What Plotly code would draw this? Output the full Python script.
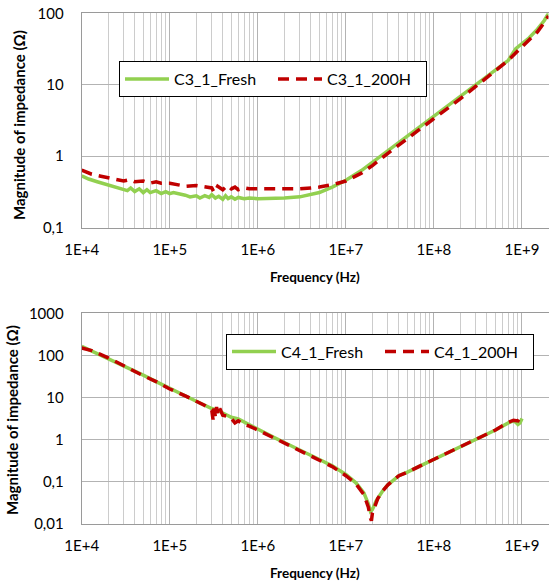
import plotly.graph_objects as go

# ---------------- data ----------------
f_c3_fresh = [1e4, 1.2e4, 1.5e4, 2e4, 2.5e4, 3e4, 3.3e4, 3.6e4, 4e4, 4.5e4, 5e4, 5.5e4, 6e4, 7e4, 8e4, 9e4,
              1e5, 1.1e5, 1.3e5, 1.5e5, 1.7e5, 2e5, 2.2e5, 2.5e5, 2.8e5, 3e5, 3.3e5, 3.6e5, 4e5, 4.3e5, 4.6e5,
              5e5, 5.5e5, 6e5, 7e5, 8e5, 1e6, 1.5e6, 2e6, 3e6, 4e6, 5e6, 7e6, 1e7, 1.5e7, 2e7, 3e7, 5e7, 7e7,
              1e8, 1.5e8, 2e8, 3e8, 5e8, 7e8, 8.5e8, 1e9, 1.2e9, 1.5e9, 1.8e9, 2e9]
z_c3_fresh = [0.53, 0.48, 0.44, 0.40, 0.37, 0.35, 0.33, 0.36, 0.32, 0.35, 0.31, 0.34, 0.31, 0.33, 0.30, 0.32,
              0.30, 0.31, 0.30, 0.285, 0.27, 0.28, 0.26, 0.28, 0.265, 0.29, 0.26, 0.275, 0.25, 0.28, 0.255,
              0.27, 0.25, 0.265, 0.255, 0.26, 0.255, 0.255, 0.26, 0.27, 0.29, 0.31, 0.37, 0.46, 0.63, 0.82, 1.2, 1.9, 2.6,
              3.6, 5.2, 6.8, 10, 16, 22, 32, 38, 45, 60, 80, 100]

f_c3_200h = [1e4, 1.3e4, 1.6e4, 2e4, 2.5e4, 3e4, 3.5e4, 4e4, 5e4, 6e4, 7e4, 8e4, 1e5, 1.2e5, 1.5e5, 2e5, 2.5e5,
             3e5, 3.2e5, 3.5e5, 4e5, 4.5e5, 5e5, 5.5e5, 6e5, 7e5, 8e5, 1e6, 1.5e6, 2e6, 3e6, 4e6, 5e6, 7e6,
             1e7, 1.5e7, 2e7, 3e7, 5e7, 7e7, 1e8, 1.5e8, 2e8, 3e8, 5e8, 7e8, 1e9, 1.2e9, 1.5e9, 1.8e9, 2e9]
z_c3_200h = [0.64, 0.56, 0.53, 0.50, 0.47, 0.45, 0.47, 0.44, 0.45, 0.42, 0.44, 0.42, 0.42, 0.40, 0.38, 0.39, 0.37,
             0.36, 0.31, 0.38, 0.34, 0.39, 0.35, 0.37, 0.34, 0.36, 0.35, 0.35, 0.35, 0.35, 0.35, 0.36, 0.37, 0.40,
             0.45, 0.58, 0.74, 1.1, 1.75, 2.4, 3.3, 4.9, 6.4, 9.6, 15.5, 22, 34, 42, 55, 75, 92]

f_c4_fresh = [1e4, 2e4, 3e4, 5e4, 7e4, 1e5, 1.5e5, 2e5, 3e5, 3.5e5, 4e5, 5e5, 6e5, 7e5, 1e6, 1.5e6, 2e6, 3e6,
              5e6, 7e6, 1e7, 1.3e7, 1.6e7, 1.8e7, 1.9e7, 2e7, 2.2e7, 2.6e7, 3e7, 4e7, 5e7, 7e7, 1e8, 1.5e8,
              2e8, 3e8, 5e8, 7e8, 8e8, 8.5e8, 9e8, 9.5e8, 1e9]
z_c4_fresh = [165, 85, 57, 34, 24, 16.5, 11, 8.2, 5.5, 5.0, 4.3, 3.4, 3.1, 2.6, 1.75, 1.15, 0.86, 0.58,
              0.34, 0.24, 0.15, 0.095, 0.055, 0.03, 0.02, 0.022, 0.035, 0.06, 0.085, 0.14, 0.17, 0.24, 0.34, 0.5,
              0.66, 1.0, 1.7, 2.5, 2.8, 2.6, 2.3, 2.5, 3.2]

f_c4_200h = [1e4, 1.3e4, 2e4, 3e4, 5e4, 7e4, 1e5, 1.5e5, 2e5, 2.5e5, 3e5, 3.1e5, 3.2e5, 3.3e5, 3.4e5, 3.5e5,
             3.7e5, 4e5, 4.5e5, 5e5, 5.5e5, 6e5, 7e5, 8e5, 1e6, 1.5e6, 2e6, 3e6, 5e6, 7e6, 1e7, 1.3e7, 1.6e7,
             1.8e7, 1.9e7, 1.95e7, 2e7, 2.1e7, 2.3e7, 2.6e7, 3e7, 4e7, 5e7, 7e7, 1e8, 1.5e8, 2e8, 3e8, 5e8,
             7e8, 8e8, 9e8, 9.6e8, 1e9]
z_c4_200h = [150, 130, 88, 56, 33, 24, 16, 11, 8, 6.5, 5.0, 3.0, 5.5, 3.4, 6.0, 4.0,
             5.5, 3.8, 3.6, 3.2, 2.5, 2.8, 2.3, 2.1, 1.7, 1.12, 0.85, 0.57, 0.33, 0.23, 0.14, 0.09, 0.05,
             0.025, 0.014, 0.012, 0.018, 0.025, 0.04, 0.06, 0.085, 0.14, 0.17, 0.24, 0.34, 0.5, 0.66, 1.0, 1.7,
             2.6, 2.9, 2.8, 3.4, 4.0]

x_tickvals = [1e4, 1e5, 1e6, 1e7, 1e8, 1e9]
x_ticktext = ["1E+4", "1E+5", "1E+6", "1E+7", "1E+8", "1E+9"]
y1_tickvals = [0.1, 1, 10, 100]
y1_ticktext = ["0,1", "1", "10", "100"]
y2_tickvals = [0.01, 0.1, 1, 10, 100, 1000]
y2_ticktext = ["0,01", "0,1", "1", "10", "100", "1000"]

GREEN = "#92D050"
RED = "#C00000"
FONT = "Lato"
W, H = 549, 584

fig = go.Figure()
fig.add_trace(go.Scatter(x=f_c3_fresh, y=z_c3_fresh, mode="lines", name="C3_1_Fresh",
                         line=dict(color=GREEN, width=3.5), xaxis="x", yaxis="y", legend="legend"))
fig.add_trace(go.Scatter(x=f_c3_200h, y=z_c3_200h, mode="lines", name="C3_1_200H",
                         line=dict(color=RED, width=3.5, dash="11px,7px"), xaxis="x", yaxis="y", legend="legend"))
fig.add_trace(go.Scatter(x=f_c4_fresh, y=z_c4_fresh, mode="lines", name="C4_1_Fresh",
                         line=dict(color=GREEN, width=3.5), xaxis="x2", yaxis="y2", legend="legend2"))
fig.add_trace(go.Scatter(x=f_c4_200h, y=z_c4_200h, mode="lines", name="C4_1_200H",
                         line=dict(color=RED, width=3.5, dash="11px,7px"), xaxis="x2", yaxis="y2", legend="legend2"))

xl, xr = 81.7 / W, 548.5 / W
top1, bot1 = 1 - 13.3 / H, 1 - 227.7 / H
top2, bot2 = 1 - 313.3 / H, 1 - 524.0 / H

tickfont = dict(family=FONT, size=15, color="#000000")
common_x = dict(type="log", range=[4, 9.30103], tickvals=x_tickvals, ticktext=x_ticktext,
                showgrid=True, gridcolor="#b3b3b3", gridwidth=1,
                minor=dict(dtick="D1", showgrid=True, gridcolor="#cccccc", gridwidth=1, ticks=""),
                showline=True, linecolor="#9a9a9a", linewidth=1, mirror=True, ticks="",
                tickfont=tickfont, zeroline=False, automargin=False, ticklabelstandoff=8)
common_y = dict(type="log", showgrid=True, gridcolor="#b3b3b3", gridwidth=1,
                showline=True, linecolor="#9a9a9a", linewidth=1, mirror=True, ticks="",
                tickfont=tickfont, zeroline=False, ticklabelstandoff=14, automargin=False)

legend_common = dict(orientation="h", xanchor="left", yanchor="top",
                     bordercolor="#000000", borderwidth=1, bgcolor="white",
                     font=dict(family=FONT, size=16, color="#000000"),
                     entrywidth=94, entrywidthmode="pixels", itemwidth=44)

fig.update_layout(
    width=W, height=H, margin=dict(l=0, r=0, t=0, b=0, autoexpand=False),
    paper_bgcolor="white", plot_bgcolor="white",
    font=dict(family=FONT, color="#000000"),
    xaxis=dict(domain=[xl, xr], anchor="y", **common_x),
    yaxis=dict(domain=[bot1, top1], anchor="x", range=[-1, 2], tickvals=y1_tickvals, ticktext=y1_ticktext, **common_y),
    xaxis2=dict(domain=[xl, xr], anchor="y2", **common_x),
    yaxis2=dict(domain=[bot2, top2], anchor="x2", range=[-2, 3], tickvals=y2_tickvals, ticktext=y2_ticktext, **common_y),
    legend=dict(x=119 / W, y=1 - 61 / H, **legend_common),
    legend2=dict(x=226 / W, y=1 - 333.7 / H, **legend_common),
    showlegend=True,
)

titlefont_x = dict(family=FONT, size=13.5, color="#000000")
titlefont_y = dict(family=FONT, size=15, color="#000000")
xc = (xl + xr) / 2
fig.add_annotation(text="<b>Frequency (Hz)</b>", x=xc, y=1 - 277 / H, xref="paper", yref="paper",
                   showarrow=False, font=titlefont_x, xanchor="center", yanchor="middle")
fig.add_annotation(text="<b>Frequency (Hz)</b>", x=xc, y=1 - 573 / H, xref="paper", yref="paper",
                   showarrow=False, font=titlefont_x, xanchor="center", yanchor="middle")
fig.add_annotation(text="<b>Magnitude of impedance (Ω)</b>", x=19 / W, y=1 - 125 / H, xref="paper",
                   yref="paper", showarrow=False, font=titlefont_y, textangle=-90, xanchor="center", yanchor="middle")
fig.add_annotation(text="<b>Magnitude of impedance (Ω)</b>", x=12 / W, y=1 - 420 / H, xref="paper",
                   yref="paper", showarrow=False, font=titlefont_y, textangle=-90, xanchor="center", yanchor="middle")

fig.write_html("out.html", config={"displayModeBar": False},
               post_script="document.body.style.margin='0';document.body.style.overflow='hidden';")
